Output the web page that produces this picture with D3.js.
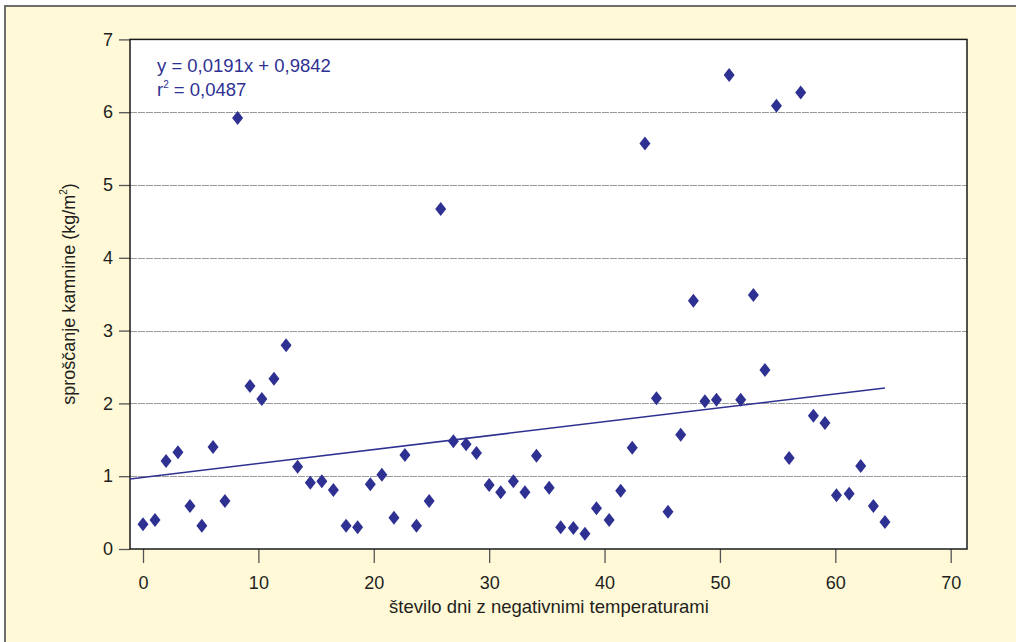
<!DOCTYPE html>
<html>
<head>
<meta charset="utf-8">
<script src="https://cdn.jsdelivr.net/npm/d3@7"></script>
<style>
  html, body { margin: 0; padding: 0; background: #ffffff; }
  svg { display: block; }
  text { font-family: "Liberation Sans", Arial, Helvetica, sans-serif; }
</style>
</head>
<body>
<svg id="chart" width="1016" height="642"></svg>
<script>
// ---- data ----
const dayCounts = [0, 1.04, 2, 3.03, 4.07, 5.1, 6.07, 7.1, 8.2, 9.27, 10.3, 11.35, 12.4, 13.4, 14.5, 15.5,
  16.5, 17.6, 18.6, 19.7, 20.7, 21.75, 22.7, 23.7, 24.8, 25.8, 26.9, 28, 28.9, 30, 31, 32.1,
  33.1, 34.1, 35.2, 36.2, 37.3, 38.3, 39.3, 40.4, 41.4, 42.4, 43.5, 44.5, 45.5, 46.6, 47.7,
  48.7, 49.7, 50.8, 51.8, 52.9, 53.9, 54.9, 56, 57, 58.1, 59.1, 60.1, 61.2, 62.2, 63.3, 64.3];
const releaseValues = [0.34, 0.40, 1.21, 1.33, 0.59, 0.32, 1.40, 0.66, 5.92, 2.24, 2.06, 2.34, 2.80, 1.13, 0.91, 0.93,
  0.81, 0.32, 0.30, 0.89, 1.02, 0.43, 1.29, 0.32, 0.66, 4.67, 1.48, 1.44, 1.32, 0.88, 0.78, 0.93,
  0.78, 1.28, 0.84, 0.30, 0.29, 0.21, 0.56, 0.40, 0.80, 1.39, 5.57, 2.07, 0.51, 1.57, 3.41,
  2.03, 2.05, 6.51, 2.05, 3.49, 2.46, 6.09, 1.25, 6.27, 1.83, 1.73, 0.74, 0.76, 1.14, 0.59, 0.37];
const xTicks = [0, 10, 20, 30, 40, 50, 60, 70];
const yTicks = [0, 1, 2, 3, 4, 5, 6, 7];
const trendSlope = 0.0191;
const trendIntercept = 0.9842;
const trendEnd = 64.3;
const equationText = "y = 0,0191x + 0,9842";
const r2Text = " = 0,0487";
const xTitle = "število dni z negativnimi temperaturami";
const yTitle = "sproščanje kamnine (kg/m";

// ---- layout ----
const svg = d3.select("#chart");
const plot = { left: 130, right: 967, top: 39.4, bottom: 549 };
const navy = "#2E3192";
const textColor = "#231F20";

const x = d3.scaleLinear().domain([0, 70]).range([143, 950.7]);
const y = d3.scaleLinear().domain([0, 7]).range([549, 39.4]);

// outer panel
svg.append("rect").attr("x", 5).attr("y", 6).attr("width", 1030).attr("height", 660)
  .attr("fill", "#FFF9D7").attr("stroke", "#6d6d6d").attr("stroke-width", 2);

// plot background
svg.append("rect").attr("x", plot.left).attr("y", plot.top)
  .attr("width", plot.right - plot.left).attr("height", plot.bottom - plot.top)
  .attr("fill", "#ffffff");

// gridlines
svg.append("g").selectAll("line").data(yTicks.filter(t => t > 0 && t < 7)).join("line")
  .attr("x1", plot.left).attr("x2", plot.right)
  .attr("y1", d => Math.round(y(d)) + 0.5).attr("y2", d => Math.round(y(d)) + 0.5)
  .attr("stroke", "#9a9a9a").attr("stroke-width", 1).attr("stroke-dasharray", "7,1");

// axes
const xAxis = d3.axisBottom(x).tickValues(xTicks).tickFormat(d3.format("d")).tickSize(14).tickPadding(13);
const gx = svg.append("g").attr("transform", `translate(0,${plot.bottom})`).call(xAxis);
gx.select(".domain").remove();
gx.selectAll(".tick line").attr("stroke", "#555").attr("stroke-width", 1.3);
gx.selectAll(".tick text").attr("fill", textColor).attr("font-size", 18)
  .attr("font-family", "Liberation Sans, Arial, sans-serif");

const yAxis = d3.axisLeft(y).tickValues(yTicks).tickFormat(d3.format("d")).tickSize(11).tickPadding(6);
const gy = svg.append("g").attr("transform", `translate(${plot.left},0)`).call(yAxis);
gy.select(".domain").remove();
gy.selectAll(".tick line").attr("stroke", "#555").attr("stroke-width", 1.3);
gy.selectAll(".tick text").attr("fill", textColor).attr("font-size", 18)
  .attr("font-family", "Liberation Sans, Arial, sans-serif");

// plot frame
svg.append("rect").attr("x", plot.left).attr("y", plot.top)
  .attr("width", plot.right - plot.left).attr("height", plot.bottom - plot.top)
  .attr("fill", "none").attr("stroke", "#1a1a1a").attr("stroke-width", 1.5);

// trendline (from the left edge of the plot to the last observation)
const trendRange = [x.invert(plot.left), trendEnd];
const line = d3.line().x(d => x(d)).y(d => y(trendIntercept + trendSlope * d));
svg.append("path").datum(trendRange).attr("d", line)
  .attr("fill", "none").attr("stroke", navy).attr("stroke-width", 1.5);

// points
const points = dayCounts.map((d, i) => ({ x: d, y: releaseValues[i] }));
svg.append("g").selectAll("path").data(points).join("path")
  .attr("transform", d => `translate(${x(d.x)},${y(d.y)})`)
  .attr("d", "M0,-7L5.5,0L0,7L-5.5,0Z")
  .attr("fill", navy);

// equation
svg.append("text").attr("x", 157).attr("y", 72).attr("fill", navy).attr("font-size", 18.5)
  .text(equationText);
const r2 = svg.append("text").attr("x", 157).attr("y", 96).attr("fill", navy).attr("font-size", 18.5);
r2.append("tspan").text("r");
r2.append("tspan").attr("font-size", 10).attr("dy", -8).text("2");
r2.append("tspan").attr("dy", 8).text(r2Text);

// axis titles
svg.append("text").attr("x", 549).attr("y", 613).attr("text-anchor", "middle")
  .attr("fill", textColor).attr("font-size", 18.5).text(xTitle);

const yt = svg.append("text").attr("transform", "translate(75,294) rotate(-90)")
  .attr("text-anchor", "middle").attr("fill", textColor).attr("font-size", 18);
yt.append("tspan").text(yTitle);
yt.append("tspan").attr("font-size", 10).attr("dy", -8).text("2");
yt.append("tspan").attr("dy", 8).text(")");
</script>
</body>
</html>
